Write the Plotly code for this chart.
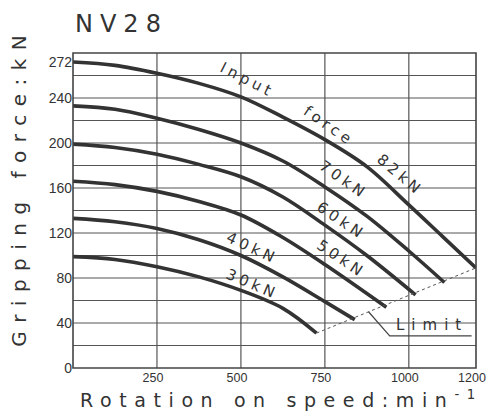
import plotly.graph_objects as go

# ---- data ----
X82 = [0, 125, 250, 375, 500, 625, 750, 875, 1000, 1100, 1200]
Y82 = [272, 269, 262, 253, 241, 223, 203, 179, 145, 117, 89]
X70 = [0, 125, 250, 375, 500, 625, 750, 875, 1000, 1106]
Y70 = [233, 230, 222, 212, 200, 184, 161, 135, 104, 76]
X60 = [0, 125, 250, 375, 500, 625, 750, 875, 1020]
Y60 = [199, 196, 190, 181, 170, 152, 127, 100, 65]
X50 = [0, 125, 250, 375, 500, 625, 750, 933]
Y50 = [166, 163, 157, 148, 136, 116, 92, 54]
X40 = [0, 125, 250, 375, 500, 625, 750, 839]
Y40 = [133, 130, 124, 114, 100, 81, 59, 43]
X30 = [0, 125, 250, 375, 500, 625, 725]
Y30 = [99, 96.5, 90, 81, 69, 53, 31]

X_TICKS = [250, 500, 750, 1000, 1200]
X_GRID = [250, 500, 750, 1000]
Y_LABELED = [0, 40, 80, 120, 160, 200, 240, 272]
Y_GRID = list(range(20, 280, 20))

# curve labels: text, x, y, angle
LABELS = [
    ("Input", 520, 256, 27),
    ("force", 762, 215, 35),
    ("82kN", 975, 172, 40),
    ("70kN", 806, 167, 35),
    ("60kN", 800, 131, 34),
    ("50kN", 800, 97, 34),
    ("40kN", 534, 107, 25),
    ("30kN", 534, 75, 23),
]
LEADER_X = [880, 943, 1187]
LEADER_Y = [50, 28.5, 28.5]

INK = "#333333"
GRID = "#555555"

fig = go.Figure()

series = [(X82, Y82), (X70, Y70), (X60, Y60), (X50, Y50), (X40, Y40), (X30, Y30)]
for xs, ys in series:
    fig.add_trace(go.Scatter(x=xs, y=ys, mode="lines",
                             line=dict(color=INK, width=3.6, shape="spline", smoothing=1.0),
                             showlegend=False, hoverinfo="skip"))

# limit line through the ends of the lowest and highest curves
fig.add_trace(go.Scatter(x=[X30[-1], X82[-1]], y=[Y30[-1], Y82[-1]], mode="lines",
                         line=dict(color="#555555", width=1, dash="dot"),
                         showlegend=False, hoverinfo="skip"))
# leader for the Limit label
fig.add_trace(go.Scatter(x=LEADER_X, y=LEADER_Y, mode="lines",
                         line=dict(color="#444444", width=1.2),
                         showlegend=False, hoverinfo="skip"))

# grid lines and frame
for v in Y_GRID:
    fig.add_shape(type="line", xref="paper", x0=0, x1=1, yref="y", y0=v, y1=v,
                  line=dict(color=GRID, width=1), layer="below")
for v in X_GRID:
    fig.add_shape(type="line", yref="paper", y0=0, y1=1, xref="x", x0=v, x1=v,
                  line=dict(color=GRID, width=1.2), layer="below")
fig.add_shape(type="rect", xref="paper", yref="paper", x0=0, x1=1, y0=0, y1=1,
              line=dict(color="#444444", width=1.6), layer="above")

for text, x, y, ang in LABELS:
    fig.add_annotation(x=x, y=y, text=f'<span style="letter-spacing:4px">{text}</span>',
                       showarrow=False, textangle=ang,
                       font=dict(family="DejaVu Sans", size=15, color=INK))

fig.add_annotation(x=1068, y=38, text='<span style="letter-spacing:7px">Limit</span>',
                   showarrow=False, font=dict(family="DejaVu Sans", size=15, color=INK))

# axis titles
fig.add_annotation(xref="paper", yref="paper", x=0.518, y=-0.098, yanchor="middle",
                   text='<span style="letter-spacing:7.6px">Rotation on speed:min<sup>-1</sup></span>',
                   showarrow=False, font=dict(family="DejaVu Sans", size=19, color=INK))
fig.add_annotation(xref="paper", yref="paper", x=-0.134, y=0.575, xanchor="center",
                   text='<span style="letter-spacing:8.5px">Gripping force:kN</span>',
                   textangle=-90, showarrow=False,
                   font=dict(family="DejaVu Sans", size=20, color=INK))

fig.update_layout(
    width=481, height=404,
    margin=dict(l=65, r=12.5, t=45, b=44, autoexpand=False),
    paper_bgcolor="white", plot_bgcolor="white",
    title=dict(text='<span style="letter-spacing:7px">NV28</span>',
               x=67 / 481, xanchor="left", xref="container",
               y=1 - 16 / 404, yanchor="middle", yref="container",
               font=dict(family="DejaVu Sans", size=24, color=INK)),
    xaxis=dict(range=[0, 1200], tickmode="array", tickvals=X_TICKS,
               ticktext=[str(v) for v in X_TICKS], ticklabeloverflow="allow",
               ticklabelshift=-4, automargin=False,
               showgrid=False, showline=False, ticks="", zeroline=False,
               tickfont=dict(family="Liberation Sans", size=12.5, color=INK)),
    yaxis=dict(range=[0, 280], tickmode="array", tickvals=Y_LABELED,
               ticktext=[str(v) for v in Y_LABELED], automargin=False,
               showgrid=False, showline=False, ticks="", zeroline=False,
               tickfont=dict(family="Liberation Sans", size=14, color=INK)),
)

fig.write_html("out.html")
